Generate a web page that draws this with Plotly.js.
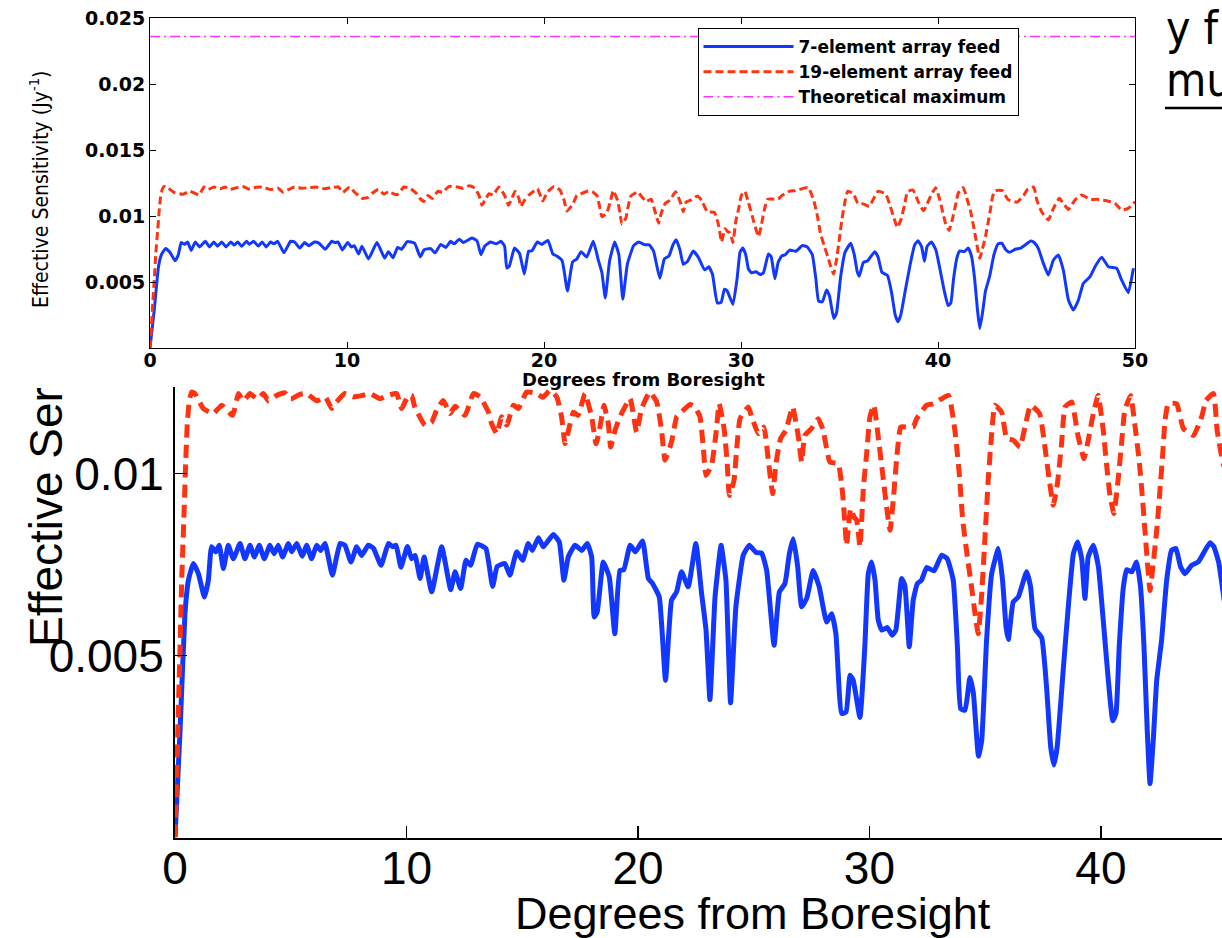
<!DOCTYPE html>
<html><head><meta charset="utf-8">
<script src="https://cdn.plot.ly/plotly-3.0.1.min.js"></script>
<style>html,body{margin:0;padding:0;background:#fff;overflow:hidden}#chart{width:1222px;height:938px}</style>
</head><body><div id="chart"></div>
<script>
// Degrees from boresight and effective sensitivity, in units of 1e-3 Jy^-1
const deg7 = [0,0.22,0.43,0.58,0.79,1.01,1.27,1.44,1.58,1.76,1.91,2.09,2.30,2.52,2.81,3.02,3.24,3.43,3.64,3.86,4.10,4.28,4.46,4.65,4.90,5.04,5.26,5.50,5.69,5.90,6.12,6.29,6.48,6.80,7.13,7.34,7.60,7.85,8.06,8.35,8.57,8.90,9.22,9.40,9.55,9.76,10.04,10.22,10.37,10.59,10.76,11.09,11.52,11.91,12.10,12.34,12.57,12.77,13.06,13.43,13.72,13.92,14.25,14.47,14.76,15.02,15.26,15.44,15.70,15.91,16.34,16.60,16.80,16.99,17.28,17.57,17.81,18.00,18.11,18.24,18.50,18.76,19.00,19.22,19.39,19.66,19.89,20.20,20.45,20.63,20.92,21.19,21.45,21.67,21.88,22.17,22.50,22.75,22.94,23.11,23.33,23.59,23.80,24.00,24.23,24.55,24.81,25.10,25.34,25.56,25.88,26.11,26.35,26.54,26.71,26.90,27.07,27.29,27.57,27.83,28.15,28.37,28.55,28.80,28.99,29.16,29.30,29.59,29.80,29.95,30.09,30.24,30.38,30.53,30.77,30.98,31.14,31.39,31.53,31.72,31.89,32.07,32.25,32.47,32.79,33.12,33.36,33.62,33.80,33.94,34.13,34.34,34.49,34.71,34.85,35.06,35.28,35.57,35.75,35.90,36.00,36.21,36.43,36.79,36.96,37.15,37.44,37.65,37.83,37.97,38.11,38.37,38.59,38.81,38.99,39.17,39.31,39.45,39.67,39.89,40.10,40.32,40.51,40.65,40.79,40.97,41.11,41.33,41.54,41.71,41.86,42.00,42.12,42.26,42.41,42.62,42.84,43.05,43.24,43.44,43.63,43.92,44.20,44.42,44.71,44.88,45.09,45.35,45.60,45.86,46.11,46.36,46.62,46.87,47.13,47.38,47.72,47.97,48.31,48.65,49.07,49.32,49.66,49.92];
const sens7 = [0,2.95,6.15,7.07,7.53,7.25,6.61,7.07,7.99,7.85,8.03,7.39,8.03,7.66,8.08,7.66,8.03,7.71,8.03,7.66,8.03,7.80,8.03,7.71,8.08,7.85,8.08,7.73,8.03,7.66,8.03,7.89,8.08,7.21,8.08,8.03,7.57,7.99,7.75,8.03,7.95,7.48,8.08,7.99,8.03,7.43,8.00,7.66,7.75,7.12,7.71,6.75,7.99,6.81,7.30,6.84,7.62,7.48,8.06,7.94,6.90,7.45,7.53,7.21,7.85,7.62,8.08,7.89,8.24,7.99,8.33,8.12,7.07,7.71,8.03,7.89,8.08,7.71,6.06,6.20,7.57,7.16,5.60,7.34,7.36,8.03,7.85,8.15,7.12,6.98,6.61,4.32,6.52,6.75,7.30,6.89,8.08,6.70,5.70,3.79,6.61,8.03,7.07,3.70,6.34,7.76,8.03,7.83,7.82,7.34,5.28,6.75,6.98,7.80,8.21,7.44,6.34,6.57,7.34,6.89,5.92,6.15,5.60,3.41,3.45,4.46,4.32,3.30,5.24,7.25,7.57,7.07,5.97,5.70,5.77,5.56,5.70,7.12,6.93,5.24,6.52,6.98,7.07,7.42,7.33,7.76,7.66,7.07,5.24,3.54,3.50,4.40,3.96,2.23,2.67,5.42,7.25,7.94,7.07,5.79,5.44,6.47,6.61,7.30,6.89,5.74,5.49,4.14,2.49,1.99,2.49,4.60,6.34,7.80,8.12,7.66,6.57,7.71,8.03,7.44,5.97,4.32,3.21,3.41,5.24,6.89,7.36,7.30,7.57,6.89,5.24,2.95,1.48,2.67,4.32,5.42,7.07,7.89,7.94,7.44,7.25,7.48,7.57,7.80,8.10,7.99,7.55,6.41,5.53,6.67,7.05,5.91,3.64,2.88,3.64,4.90,5.40,6.16,6.87,6.16,6.04,5.15,4.19,6.04];
const deg19 = [0,0.07,0.14,0.22,0.29,0.39,0.46,0.53,0.62,0.72,0.86,1.22,1.66,2.02,2.49,2.74,2.95,3.24,3.55,3.82,4.03,4.40,4.75,5.00,5.40,5.69,6.12,6.50,6.77,6.98,7.34,7.70,8.10,8.42,8.86,9.20,9.57,9.79,10.08,10.22,10.36,10.80,11.09,11.30,11.59,11.88,12.10,12.53,12.89,13.18,13.54,13.68,13.90,14.11,14.33,14.62,14.83,15.19,15.62,15.90,16.20,16.49,16.70,16.85,17.00,17.21,17.42,17.71,18.00,18.19,18.36,18.53,18.72,18.82,19.01,19.22,19.66,19.94,20.16,20.51,20.81,21.02,21.17,21.45,21.67,21.81,22.25,22.46,22.68,22.82,22.94,23.18,23.37,23.51,23.73,23.86,23.95,24.15,24.26,24.41,24.77,24.91,25.20,25.44,25.63,25.82,25.96,26.16,26.39,26.68,26.92,27.07,27.21,27.50,27.79,28.00,28.29,28.65,28.84,28.94,29.01,29.19,29.33,29.45,29.59,29.74,29.88,30.02,30.19,30.38,30.57,30.74,30.89,31.03,31.17,31.35,31.61,31.89,32.04,32.47,32.76,33.41,33.69,33.88,34.03,34.23,34.41,34.56,34.70,34.85,35.00,35.13,35.28,35.42,35.71,35.93,36.21,36.50,36.72,36.96,37.35,37.58,37.77,37.94,38.12,38.30,38.45,38.73,39.02,39.27,39.45,39.67,39.88,40.10,40.24,40.38,40.56,40.74,40.89,41.03,41.28,41.46,41.65,41.79,41.90,42.00,42.12,42.26,42.41,42.55,42.67,42.77,42.91,43.27,43.56,44.00,44.35,44.54,44.86,45.02,45.26,45.60,45.86,46.16,46.36,46.62,46.95,47.29,47.72,48.05,48.56,48.98,49.32,49.66,50.00];
const sens19 = [0,1.58,3.41,5.24,7.07,8.90,10.27,11.37,12.01,12.24,12.20,11.79,11.65,11.88,11.60,12.20,12.00,12.20,12.05,12.20,12.00,12.15,12.22,12.05,12.18,12.20,12.00,12.10,11.79,11.97,12.20,12.11,12.15,12.20,12.06,12.15,12.20,11.79,12.15,12.15,11.83,11.33,11.42,11.74,12.01,11.65,11.85,11.60,12.20,12.11,11.69,11.37,11.10,11.56,11.33,11.88,11.79,12.24,12.20,12.10,12.29,12.11,11.56,10.82,11.19,11.69,11.60,12.20,11.56,10.82,11.28,11.88,11.37,10.73,11.19,11.56,12.06,11.14,11.79,12.24,11.97,11.19,10.37,10.87,11.56,11.65,11.90,11.83,11.56,10.73,9.95,10.23,11.10,11.92,11.19,10.23,9.40,9.82,10.64,11.51,11.83,11.56,11.10,11.28,10.37,9.45,10.27,10.96,11.19,11.83,11.05,10.32,11.05,11.24,11.51,11.19,10.32,10.27,9.45,8.63,8.03,9.04,8.81,8.72,7.99,9.63,10.55,11.56,11.88,11.01,10.00,9.08,8.44,9.27,10.37,11.28,11.28,11.28,11.51,11.88,11.92,12.15,11.19,10.00,8.72,7.71,6.89,6.15,5.60,6.70,8.35,9.82,11.10,11.88,11.69,10.96,10.92,10.73,11.28,11.88,11.65,10.73,9.82,9.13,9.73,10.82,11.83,11.97,11.01,10.41,10.92,11.65,12.15,11.19,10.27,9.45,8.90,9.82,10.82,11.74,12.15,11.37,10.37,9.36,8.44,7.62,6.79,7.53,8.44,9.54,10.55,11.47,11.92,11.92,11.24,11.05,11.56,12.01,12.20,11.19,10.33,9.70,10.58,11.34,10.96,10.50,11.21,11.59,11.26,11.26,11.16,10.96,10.45,10.58,11.08];
const theoryDeg = [0, 50];
const theorySens = [23.6, 23.6];
const UNIT = 1e-3;
const names = ['7-element array feed', '19-element array feed', 'Theoretical maximum'];
const topXTicks = [0, 10, 20, 30, 40, 50];
const topYTicks = [0.005, 0.01, 0.015, 0.02, 0.025];
const topYText = ['0.005', '0.01', '0.015', '0.02', '0.025'];
const botXTicks = [0, 10, 20, 30, 40];
const botYTicks = [0.005, 0.01];
const botYText = ['0.005', '0.01'];

const W = 1222, H = 938;
const px = x => x / W, py = y => 1 - y / H;
const s7 = sens7.map(v => v * UNIT), s19 = sens19.map(v => v * UNIT), sT = theorySens.map(v => v * UNIT);
const BLUE = '#1238ff', RED = '#ff3311', MAG = '#ff33ff';

const traces = [
  {x: deg7, y: s7, name: names[0], mode: 'lines', line: {color: BLUE, width: 3, shape: 'spline', smoothing: 0.4}, xaxis: 'x', yaxis: 'y'},
  {x: deg19, y: s19, name: names[1], mode: 'lines', line: {color: RED, width: 3, dash: '8px,4px', shape: 'spline', smoothing: 0.4}, xaxis: 'x', yaxis: 'y'},
  {x: theoryDeg, y: sT, name: names[2], mode: 'lines', line: {color: MAG, width: 1.5, dash: '10px,4px,2px,4px'}, xaxis: 'x', yaxis: 'y'},
  {x: deg7, y: s7, name: names[0], mode: 'lines', showlegend: false, line: {color: BLUE, width: 5, shape: 'spline', smoothing: 0.4}, xaxis: 'x2', yaxis: 'y2'},
  {x: deg19, y: s19, name: names[1], mode: 'lines', showlegend: false, line: {color: RED, width: 5, dash: '13px,7px', shape: 'spline', smoothing: 0.4}, xaxis: 'x2', yaxis: 'y2'}
];

const boldFont = {family: 'DejaVu Sans, sans-serif', size: 19, weight: 'bold', color: '#000'};
const bigFont = {family: 'Liberation Sans, Arial, sans-serif', size: 46, color: '#000'};

const layout = {
  width: W, height: H,
  margin: {l: 0, r: 0, t: 0, b: 0, pad: 0},
  paper_bgcolor: '#fff', plot_bgcolor: '#fff',
  showlegend: true,
  xaxis: {domain: [px(150), px(1135)], range: [0, 50], anchor: 'y', tickvals: topXTicks, ticktext: topXTicks.map(String),
    ticks: 'inside', ticklen: 6, tickcolor: '#000', tickwidth: 1, showline: true, linecolor: '#000', linewidth: 1, mirror: 'ticks',
    showgrid: false, zeroline: false, tickfont: boldFont, ticklabelstandoff: -5},
  yaxis: {domain: [py(348), py(18)], range: [0, 0.025], anchor: 'x', tickvals: topYTicks, ticktext: topYText,
    ticks: 'inside', ticklen: 6, tickcolor: '#000', tickwidth: 1, showline: true, linecolor: '#000', linewidth: 1, mirror: 'ticks',
    showgrid: false, zeroline: false, tickfont: boldFont, ticklabelstandoff: 0},
  xaxis2: {domain: [px(175), 1], range: [0, 45.23], anchor: 'y2', tickvals: botXTicks, ticktext: botXTicks.map(String),
    ticks: 'inside', ticklen: 12, tickcolor: '#000', tickwidth: 1.5, showline: true, linecolor: '#000', linewidth: 2.5, mirror: false,
    showgrid: false, zeroline: false, tickfont: bigFont, ticklabelstandoff: -11},
  yaxis2: {domain: [py(837.5), py(387)], range: [0, 0.01238], anchor: 'x2', tickvals: botYTicks, ticktext: botYText,
    ticks: 'inside', ticklen: 12, tickcolor: '#000', tickwidth: 1.5, showline: true, linecolor: '#000', linewidth: 2, mirror: false,
    showgrid: false, zeroline: false, tickfont: bigFont, ticklabelstandoff: 0},
  legend: {x: px(858), xanchor: 'center', y: py(28), yanchor: 'top', bgcolor: '#fff', bordercolor: '#000', borderwidth: 1,
    font: {family: 'DejaVu Sans, sans-serif', size: 17, weight: 'bold', color: '#000'}, itemwidth: 90, tracegroupgap: 0},
  annotations: [
    {text: 'Effective Sensitivity (Jy<sup>-1</sup>)', textangle: -90, xref: 'paper', yref: 'paper', x: px(39), y: py(190),
      xanchor: 'center', yanchor: 'middle', showarrow: false,
      font: {family: 'Liberation Sans Narrow, DejaVu Sans Condensed, sans-serif', size: 21, color: '#000'}},
    {text: 'Degrees from Boresight', xref: 'paper', yref: 'paper', x: px(643), y: py(379), xanchor: 'center', yanchor: 'middle',
      showarrow: false, font: {family: 'DejaVu Sans, sans-serif', size: 18, weight: 'bold', color: '#000'}},
    {text: 'Effective Ser', textangle: -90, xref: 'paper', yref: 'paper', x: px(46), y: py(517), xanchor: 'center', yanchor: 'middle',
      showarrow: false, font: bigFont},
    {text: 'Degrees from Boresight', xref: 'paper', yref: 'paper', x: px(753), y: py(913), xanchor: 'center', yanchor: 'middle',
      showarrow: false, font: {family: 'Liberation Sans, Arial, sans-serif', size: 45, color: '#000'}},
    {text: 'y f', xref: 'paper', yref: 'paper', x: px(1164), y: py(28), xanchor: 'left', yanchor: 'middle', showarrow: false,
      font: {family: 'Liberation Sans Narrow, DejaVu Sans Condensed, sans-serif', size: 46, color: '#000'}},
    {text: 'mu', xref: 'paper', yref: 'paper', x: px(1164), y: py(80), xanchor: 'left', yanchor: 'middle', showarrow: false,
      font: {family: 'Liberation Sans Narrow, DejaVu Sans Condensed, sans-serif', size: 46, color: '#000'}}
  ],
  shapes: [
    {type: 'line', xref: 'paper', yref: 'paper', x0: px(1165), x1: 1.02, y0: py(108), y1: py(108), line: {color: '#000', width: 2.5}}
  ]
};

Plotly.newPlot('chart', traces, layout, {displayModeBar: false, staticPlot: true});
</script>
</body></html>
